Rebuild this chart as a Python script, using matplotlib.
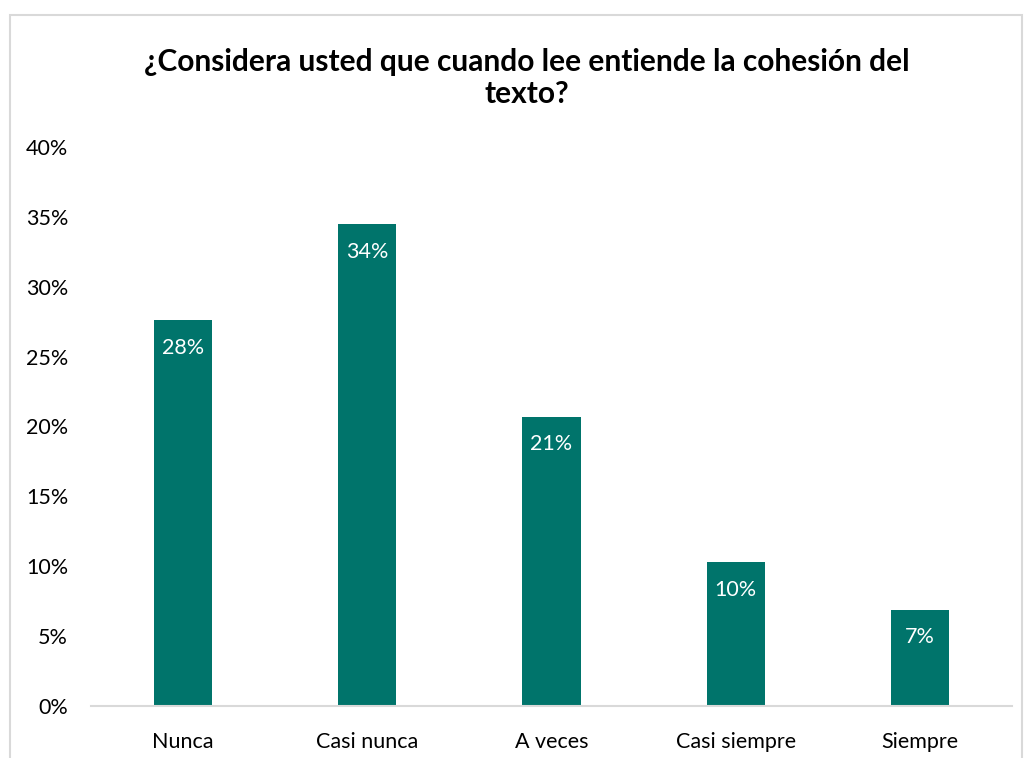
import matplotlib.pyplot as plt
from matplotlib.patches import Rectangle

categorias = ['Nunca', 'Casi nunca', 'A veces', 'Casi siempre', 'Siempre']
porcentajes = [27.6, 34.5, 20.7, 10.3, 6.9]
etiquetas = ['28%', '34%', '21%', '10%', '7%']
ticks_y = [0, 5, 10, 15, 20, 25, 30, 35, 40]

plt.rcParams['font.family'] = ['Lato', 'DejaVu Sans']

fig = plt.figure(figsize=(10.29, 7.58), dpi=100)
ax = fig.add_axes([91 / 1029, 52 / 758, 921 / 1029, 559 / 758])

color = '#00746B'
x = range(len(categorias))
bars = ax.bar(x, porcentajes, width=0.315, color=color)
for b, lab in zip(bars, etiquetas):
    ax.annotate(lab, (b.get_x() + b.get_width() / 2, b.get_height()),
                xytext=(0, -20), textcoords='offset points',
                ha='center', va='center', color='white', fontsize=15.5)

ax.set_xlim(-0.5, len(categorias) - 0.5)
ax.set_ylim(0, 40)
ax.set_yticks(ticks_y)
ax.set_yticklabels([f'{t}%' for t in ticks_y], fontsize=15.5)
ax.set_xticks(list(x))
ax.set_xticklabels(categorias, fontsize=15.5)
ax.tick_params(axis='both', length=0, colors='black')
ax.tick_params(axis='y', pad=16.5)
ax.tick_params(axis='x', pad=19)
for s in ['top', 'right', 'left']:
    ax.spines[s].set_visible(False)
ax.spines['bottom'].set_color('#D9D9D9')
ax.spines['bottom'].set_linewidth(1.5)

fig.text(527 / 1029, 1 - 78 / 758,
         '¿Considera usted que cuando lee entiende la cohesión del\ntexto?',
         ha='center', va='center', fontsize=21.5, fontweight='bold',
         linespacing=1.17)

fig.patches.append(Rectangle((10 / 1029, -0.05), 1012 / 1029, 1.05 - 15 / 758,
                             transform=fig.transFigure, fill=False,
                             edgecolor='#D9D9D9', linewidth=1.5))

fig.savefig('out.png', dpi=100)
